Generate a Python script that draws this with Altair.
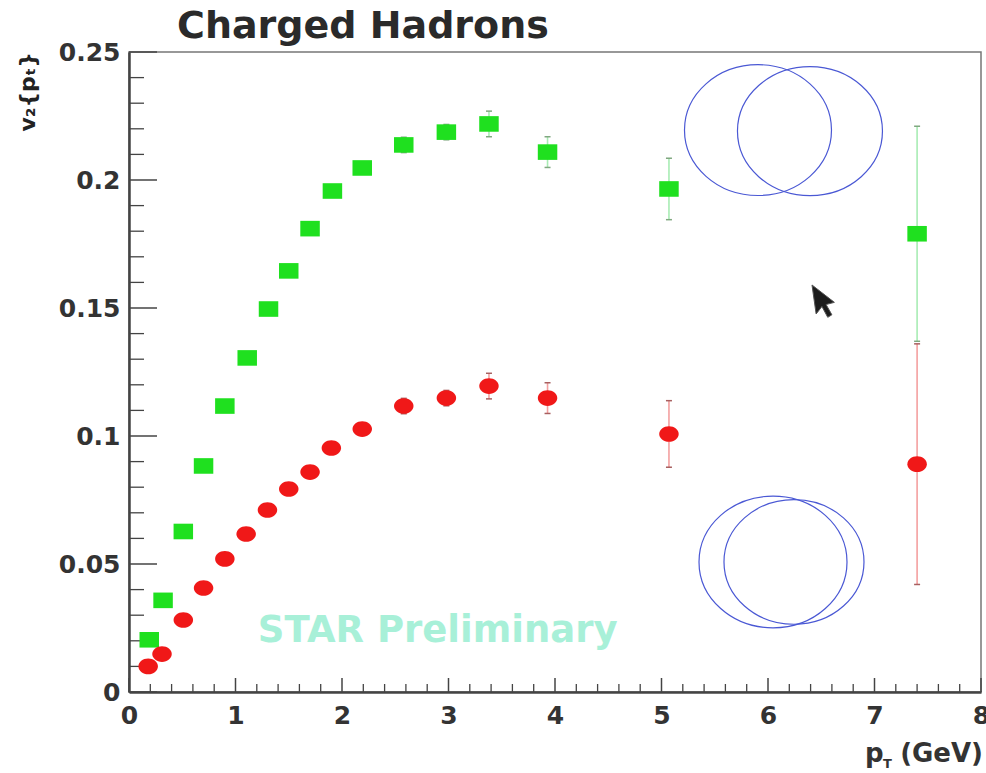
import altair as alt
import pandas as pd

# ---- data ----
pt_green = [0.19, 0.32, 0.51, 0.70, 0.90, 1.11, 1.31, 1.50, 1.70, 1.91, 2.19, 2.58, 2.98, 3.38, 3.93, 5.07, 7.40]
v2_green = [0.0204, 0.0358, 0.0627, 0.0883, 0.1117, 0.1305, 0.1496, 0.1645, 0.1810, 0.1957, 0.2047, 0.2137, 0.2187, 0.2219, 0.2109, 0.1965, 0.1790]
err_green = [0.001, 0.001, 0.001, 0.001, 0.001, 0.001, 0.0015, 0.0015, 0.002, 0.002, 0.002, 0.003, 0.003, 0.005, 0.006, 0.012, 0.042]

pt_red = [0.18, 0.31, 0.51, 0.70, 0.90, 1.10, 1.30, 1.50, 1.70, 1.90, 2.19, 2.58, 2.98, 3.38, 3.93, 5.07, 7.40]
v2_red = [0.0100, 0.0148, 0.0281, 0.0406, 0.0520, 0.0617, 0.0711, 0.0793, 0.0859, 0.0953, 0.1027, 0.1117, 0.1148, 0.1195, 0.1148, 0.1008, 0.0890]
err_red = [0.001, 0.001, 0.001, 0.001, 0.001, 0.001, 0.0015, 0.0015, 0.002, 0.002, 0.002, 0.003, 0.003, 0.005, 0.006, 0.013, 0.047]

x_labels = [0, 1, 2, 3, 4, 5, 6, 7, 8]
y_labels = [0, 0.05, 0.1, 0.15, 0.2, 0.25]
x_minor = [round(0.2 * i, 2) for i in range(1, 40) if i % 5 != 0]
y_minor = [round(0.01 * i, 2) for i in range(1, 25) if i % 5 != 0]

# decorative rings (centres and widths) and cursor
ring_x = [5.906, 6.394, 6.047, 6.244]
ring_y = [0.2195, 0.2191, 0.0508, 0.0508]
ring_w = [147, 145, 148, 140]
cursor_x = [6.413]
cursor_y = [0.159]

watermark = ["STAR Preliminary"]
watermark_x = [1.21]
watermark_y = [0.0195]

FONT = "DejaVu Sans"
GREEN = "#1fe01f"
RED = "#f01818"
DARK = "#333333"

W, H = 852, 640

xs = alt.Scale(domain=[0, 8], nice=False, zero=False)
ys = alt.Scale(domain=[0, 0.25], nice=False, zero=False)

xaxis = alt.Axis(values=x_labels, format="d", ticks=False, grid=False, domainColor="#444444",
                 domainWidth=2.5, labelFont=FONT, labelFontWeight="bold", labelFontSize=25,
                 labelColor=DARK, labelPadding=11, labelFlush=False, labelOverlap=False, title=None)
yaxis = alt.Axis(values=y_labels, format="~g", ticks=False, grid=False, domainColor="#444444",
                 domainWidth=2.5, labelFont=FONT, labelFontWeight="bold", labelFontSize=25,
                 labelColor=DARK, labelPadding=9, labelFlush=False, labelOverlap=False, title=None)


def X(f):
    return alt.X(f, type="quantitative", scale=xs, axis=xaxis, title=None)


def Y(f):
    return alt.Y(f, type="quantitative", scale=ys, axis=yaxis, title=None)


green = pd.DataFrame({"pt": pt_green, "v2": v2_green,
                      "lo": [v - e for v, e in zip(v2_green, err_green)],
                      "hi": [v + e for v, e in zip(v2_green, err_green)]})
red = pd.DataFrame({"pt": pt_red, "v2": v2_red,
                    "lo": [v - e for v, e in zip(v2_red, err_red)],
                    "hi": [v + e for v, e in zip(v2_red, err_red)]})

SQUARE = "M -1 -0.8 L 1 -0.8 L 1 0.8 L -1 0.8 Z"
DISC = "M -1 0 A 1 0.8 0 1 0 1 0 A 1 0.8 0 1 0 -1 0 Z"
RING = "M -1 0 A 1 0.89 0 1 0 1 0 A 1 0.89 0 1 0 -1 0 Z"
ARROW = "M 0 0 L 0.25 1.75 L 0.6 1.3 L 0.95 1.95 L 1.2 1.8 L 0.85 1.18 L 1.35 1.05 Z"

# ticks drawn inside the frame
xmaj = pd.DataFrame({"v": x_labels})
xmin = pd.DataFrame({"v": x_minor})
ymaj = pd.DataFrame({"v": y_labels})
ymin = pd.DataFrame({"v": y_minor})

tick_x_major = alt.Chart(xmaj).mark_rule(color="#444444", strokeWidth=1.5).encode(
    x=X("v"), y=alt.value(H), y2=alt.value(H - 14))
tick_x_minor = alt.Chart(xmin).mark_rule(color="#444444", strokeWidth=1.3).encode(
    x=X("v"), y=alt.value(H), y2=alt.value(H - 8))
tick_y_major = alt.Chart(ymaj).mark_rule(color="#444444", strokeWidth=1.5).encode(
    y=Y("v"), x=alt.value(0), x2=alt.value(28))
tick_y_minor = alt.Chart(ymin).mark_rule(color="#444444", strokeWidth=1.3).encode(
    y=Y("v"), x=alt.value(0), x2=alt.value(15))


def series(df, color, bar_color, cap_color, shape):
    bars = alt.Chart(df).mark_rule(color=bar_color, strokeWidth=1.6).encode(
        x=X("pt"), y=Y("lo"), y2="hi")
    cap_lo = alt.Chart(df).mark_rule(color=cap_color, strokeWidth=1.5, xOffset=-3, x2Offset=3).encode(
        x=X("pt"), x2="pt", y=Y("lo"))
    cap_hi = alt.Chart(df).mark_rule(color=cap_color, strokeWidth=1.5, xOffset=-3, x2Offset=3).encode(
        x=X("pt"), x2="pt", y=Y("hi"))
    pts = alt.Chart(df).mark_point(shape=shape, filled=True, color=color, opacity=1, size=380).encode(
        x=X("pt"), y=Y("v2"))
    return [bars, cap_lo, cap_hi, pts]


rings = alt.Chart(pd.DataFrame({"x": ring_x, "y": ring_y, "w2": [w * w for w in ring_w]})).mark_point(
    shape=RING, filled=False, color="#4a58d4", strokeWidth=1.2, opacity=1).encode(
    x=X("x"), y=Y("y"), size=alt.Size("w2:Q", scale=None, legend=None))

cursor = alt.Chart(pd.DataFrame({"x": cursor_x, "y": cursor_y})).mark_point(
    shape=ARROW, filled=True, color="#1c1c1c", size=1100, opacity=1, stroke="#555555", strokeWidth=1).encode(
    x=X("x"), y=Y("y"))

star = alt.Chart(pd.DataFrame({"x": watermark_x, "y": watermark_y, "t": watermark})).mark_text(
    font=FONT, fontWeight="bold", fontSize=37, color="#a8f0d8", align="left", baseline="alphabetic").encode(
    x=X("x"), y=Y("y"), text="t:N")

one = pd.DataFrame({"t": ["Charged Hadrons"]})
title = alt.Chart(one).mark_text(font=FONT, fontWeight="bold", fontSize=38, color="#2a2a2a",
                                 align="left", baseline="alphabetic").encode(
    x=alt.value(48), y=alt.value(-14), text=alt.value("Charged Hadrons"))
ylab = alt.Chart(one).mark_text(font=FONT, fontWeight="bold", fontSize=22, color="#222222",
                                align="right", baseline="alphabetic", angle=270).encode(
    x=alt.value(-94), y=alt.value(0), text=alt.value("v₂{pₜ}"))
xlab_p = alt.Chart(one).mark_text(font=FONT, fontWeight="bold", fontSize=26, color="#333333",
                                  align="left", baseline="alphabetic").encode(
    x=alt.value(736), y=alt.value(H + 70), text=alt.value("p"))
xlab_t = alt.Chart(one).mark_text(font=FONT, fontWeight="bold", fontSize=13, color="#333333",
                                  align="left", baseline="alphabetic").encode(
    x=alt.value(754), y=alt.value(H + 76), text=alt.value("T"))
xlab_g = alt.Chart(one).mark_text(font=FONT, fontWeight="bold", fontSize=26, color="#333333",
                                  align="right", baseline="alphabetic").encode(
    x=alt.value(854), y=alt.value(H + 70), text=alt.value("(GeV)"))

layers = ([tick_x_major, tick_x_minor, tick_y_major, tick_y_minor, star, rings]
          + series(green, GREEN, "#a8ecb4", "#80a880", SQUARE)
          + series(red, RED, "#f4a0a0", "#a86060", DISC)
          + [cursor, title, ylab, xlab_p, xlab_t, xlab_g])

chart = alt.layer(*layers).properties(
    width=W, height=H,
    autosize=alt.AutoSizeParams(type="none"),
    padding={"left": 129, "top": 52, "right": 5, "bottom": 81},
    background="white",
).configure_view(stroke="#777777", strokeWidth=1.5)

chart.save("out.html", embed_options={"renderer": "svg", "actions": False})
